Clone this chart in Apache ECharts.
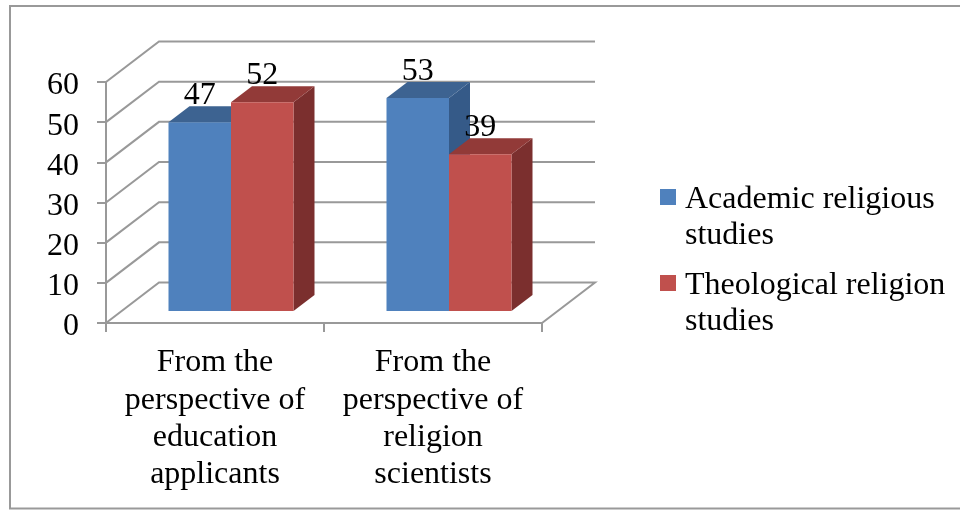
<!DOCTYPE html>
<html>
<head>
<meta charset="utf-8">
<style>html,body{margin:0;padding:0;background:#fff}#c{width:960px;height:510px}</style>
<script src="https://cdn.jsdelivr.net/npm/echarts@6/dist/echarts.min.js"></script>
</head>
<body>
<div id="c"></div>
<script>
var categories = ['From the\nperspective of\neducation\napplicants', 'From the\nperspective of\nreligion\nscientists'];
var academicValues = [47, 53];
var theologicalValues = [52, 39];
var seriesNames = ['Academic religious studies', 'Theological religion studies'];
var legendLines = [['Academic religious', 'studies'], ['Theological religion', 'studies']];
var yTicks = [0, 10, 20, 30, 40, 50, 60];

var FONT = '"Liberation Serif", "Times New Roman", serif';
var FS = 32;
var GREY = '#999999';
var WALL = [53, -40.5];
var BAR_SHIFT = [16, -12];
var BAR_DEPTH = [21, -16];
var BAR_W = 62.5;

function wallItem(params, api) {
  var v = api.value(1);
  var cs = params.coordSys;
  var x0 = cs.x, x1 = cs.x + cs.width;
  var y = api.coord([0, v])[1];
  var pts = [[x0, y], [x0 + WALL[0], y + WALL[1]], [x1 + WALL[0], y + WALL[1]]];
  if (v === 0) pts.push([x1, y]);
  return { type: 'polyline', shape: { points: pts }, style: { stroke: GREY, lineWidth: 2, fill: 'none' }, silent: true };
}

function barRenderer(side, front, top, sideCol) {
  return function (params, api) {
    var c = api.coord([api.value(0), 0]);
    var t = api.coord([api.value(0), api.value(1)]);
    var xl = c[0] + (side === 0 ? -BAR_W : 0) + BAR_SHIFT[0];
    var xr = xl + BAR_W;
    var yb = c[1] + BAR_SHIFT[1];
    var yt = t[1] + BAR_SHIFT[1];
    var dx = BAR_DEPTH[0], dy = BAR_DEPTH[1];
    return {
      type: 'group',
      children: [
        { type: 'polygon', shape: { points: [[xr, yb], [xr + dx, yb + dy], [xr + dx, yt + dy], [xr, yt]] }, style: { fill: sideCol } },
        { type: 'polygon', shape: { points: [[xl, yt], [xl + dx, yt + dy], [xr + dx, yt + dy], [xr, yt]] }, style: { fill: top } },
        { type: 'rect', shape: { x: xl, y: yt, width: BAR_W, height: yb - yt }, style: { fill: front } },
        { type: 'text', z2: 100, style: { text: String(api.value(1)), x: (xl + xr) / 2, y: yt + dy + 5, align: 'center', verticalAlign: 'bottom', fontSize: FS, fontFamily: FONT, fill: '#000' } }
      ]
    };
  };
}

function pairs(values) { return values.map(function (v, i) { return [i, v]; }); }

var chart = echarts.init(document.getElementById('c'), null, { renderer: 'canvas' });
chart.setOption({
  animation: false,
  backgroundColor: '#fff',
  graphic: [{ type: 'rect', shape: { x: 10, y: 6, width: 960, height: 502.5 }, style: { fill: 'none', stroke: '#999999', lineWidth: 2 }, silent: true }],
  grid: { left: 106, top: 82, width: 436, height: 241 },
  legend: {
    orient: 'vertical', left: 655, top: 140, itemWidth: 16, itemHeight: 16, itemGap: -21, icon: 'rect', selectedMode: false,
    data: seriesNames,
    formatter: function (n) {
      var l = legendLines[seriesNames.indexOf(n)];
      return '{t| }\n{a|' + l[0] + '}\n{a|' + l[1] + '}';
    },
    textStyle: {
      padding: [0, 0, 0, 4],
      rich: {
        t: { fontFamily: FONT, fontSize: FS, lineHeight: 42, color: '#000' },
        a: { fontFamily: FONT, fontSize: FS, lineHeight: 36, color: '#000' }
      }
    }
  },
  xAxis: {
    type: 'category', data: categories,
    axisLine: { show: true, lineStyle: { color: GREY, width: 2 } },
    axisTick: { show: true, length: 9, lineStyle: { color: GREY, width: 2 } },
    axisLabel: { fontFamily: FONT, fontSize: FS, lineHeight: 37.4, color: '#000', margin: 21, interval: 0 }
  },
  yAxis: {
    type: 'value', min: 0, max: 60, interval: 10,
    splitLine: { show: false },
    axisLine: { show: true, lineStyle: { color: GREY, width: 2 } },
    axisTick: { show: true, length: 9, lineStyle: { color: GREY, width: 2 } },
    axisLabel: { fontFamily: FONT, fontSize: FS, lineHeight: 32, color: '#000', margin: 27, verticalAlign: 'top', padding: [-12, 0, 0, 0] }
  },
  series: [
    { type: 'custom', name: 'walls', silent: true, z: 1, renderItem: wallItem, encode: { x: 0, y: 1 },
      data: yTicks.map(function (v) { return [0, v]; }) },
    { type: 'custom', name: seriesNames[0], z: 2, itemStyle: { color: '#4f81bd' }, encode: { x: 0, y: 1 },
      renderItem: barRenderer(0, '#4f81bd', '#3d6391', '#355a88'), data: pairs(academicValues) },
    { type: 'custom', name: seriesNames[1], z: 3, itemStyle: { color: '#c0504d' }, encode: { x: 0, y: 1 },
      renderItem: barRenderer(1, '#c0504d', '#923a38', '#7b2f2e'), data: pairs(theologicalValues) }
  ]
});
</script>
</body>
</html>
